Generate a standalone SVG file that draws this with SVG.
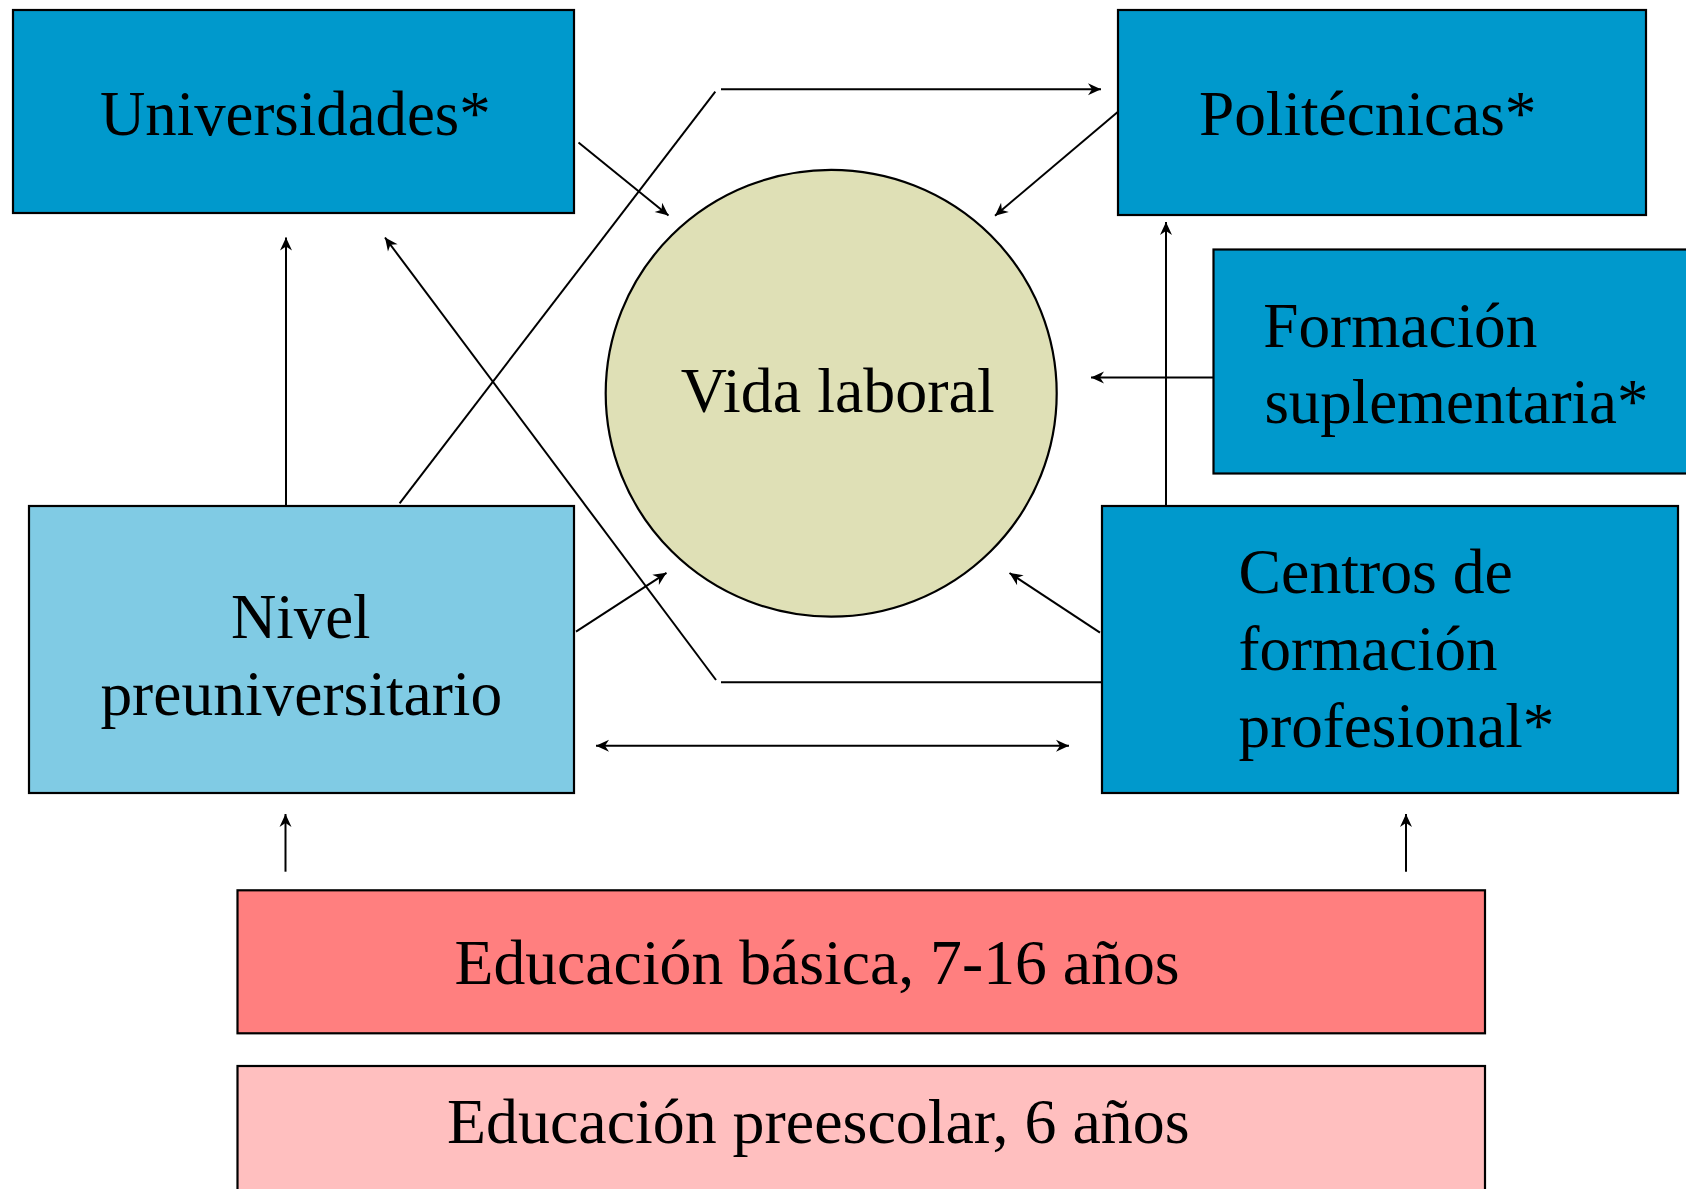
<svg xmlns="http://www.w3.org/2000/svg" width="1686" height="1189" viewBox="0 0 1686 1189">
<style>
  .box { stroke: #000; stroke-width: 2.2; }
  .blue { fill: #0099CC; }
  .light { fill: #80CBE4; }
  .basic { fill: #FF7F7F; }
  .pre { fill: #FFBFBF; }
  .circle { fill: #DFE0B6; stroke: #000; stroke-width: 2.2; }
  .lbl { font-family: "Liberation Serif", "Times New Roman", serif; font-size: 64px; fill: #000; }
  .c { stroke: #000; stroke-width: 2; fill: none; }
  .a { marker-end: url(#ah); }
  .aa { marker-start: url(#ah); marker-end: url(#ah); }
</style>
<defs>
  <marker id="ah" viewBox="-14 -7 15 14" refX="0" refY="0" markerWidth="15" markerHeight="14" markerUnits="userSpaceOnUse" orient="auto-start-reverse">
    <path d="M0,0 L-13,-6 L-9,0 L-13,6 Z" fill="#000"/>
  </marker>
</defs>
<rect width="1686" height="1189" fill="#fff"/>

<g id="connectors">
  <line class="c a" x1="578.5" y1="142.5" x2="668.5" y2="215.5"/>
  <line class="c a" x1="721" y1="89.3" x2="1101" y2="89.3"/>
  <line class="c a" x1="1118" y1="111.7" x2="995" y2="215.7"/>
  <line class="c a" x1="1213" y1="377.5" x2="1091" y2="377.5"/>
  <line class="c a" x1="1166" y1="506" x2="1166" y2="222"/>
  <line class="c a" x1="286" y1="506" x2="286" y2="237.5"/>
  <line class="c" x1="399.6" y1="503.3" x2="715.3" y2="91.7"/>
  <line class="c a" x1="576" y1="631.7" x2="666.5" y2="572.8"/>
  <line class="c a" x1="716" y1="680" x2="385" y2="237.5"/>
  <line class="c" x1="1102" y1="682.3" x2="721" y2="682.3"/>
  <line class="c aa" x1="596" y1="745.7" x2="1069" y2="745.7"/>
  <line class="c a" x1="1100" y1="632.7" x2="1009.5" y2="573"/>
  <line class="c a" x1="285.5" y1="871.7" x2="285.5" y2="814"/>
  <line class="c a" x1="1406" y1="871.7" x2="1406" y2="814"/>
</g>

<g id="universidades">
  <rect class="box blue" x="13" y="10" width="561" height="203"/>
  <text class="lbl" x="100" y="135" textLength="390.6" lengthAdjust="spacingAndGlyphs">Universidades*</text>
</g>

<g id="politecnicas">
  <rect class="box blue" x="1118" y="10" width="528" height="205"/>
  <text class="lbl" x="1199" y="135" textLength="337.5" lengthAdjust="spacingAndGlyphs">Politécnicas*</text>
</g>

<g id="formacion-suplementaria">
  <rect class="box blue" x="1213.5" y="249.5" width="480" height="224"/>
  <text class="lbl" x="1263.3" y="346.7" textLength="274" lengthAdjust="spacingAndGlyphs">Formación</text>
  <text class="lbl" x="1264.4" y="423.3" textLength="384" lengthAdjust="spacingAndGlyphs">suplementaria*</text>
</g>

<g id="vida-laboral">
  <ellipse class="circle" cx="831.2" cy="393.3" rx="225.5" ry="223.4"/>
  <text class="lbl" x="680.7" y="412" textLength="314" lengthAdjust="spacingAndGlyphs">Vida laboral</text>
</g>

<g id="nivel-preuniversitario">
  <rect class="box light" x="29" y="506" width="545" height="287"/>
  <text class="lbl" x="231" y="638.3" textLength="139.5" lengthAdjust="spacingAndGlyphs">Nivel</text>
  <text class="lbl" x="100.4" y="715" textLength="401.8" lengthAdjust="spacingAndGlyphs">preuniversitario</text>
</g>

<g id="centros-formacion-profesional">
  <rect class="box blue" x="1102" y="506" width="576" height="287"/>
  <text class="lbl" x="1238.6" y="593.3" textLength="274.3" lengthAdjust="spacingAndGlyphs">Centros de</text>
  <text class="lbl" x="1238.6" y="670" textLength="259" lengthAdjust="spacingAndGlyphs">formación</text>
  <text class="lbl" x="1238.6" y="746.7" textLength="315.7" lengthAdjust="spacingAndGlyphs">profesional*</text>
</g>

<g id="educacion-basica">
  <rect class="box basic" x="237.5" y="890.3" width="1247.5" height="143"/>
  <text class="lbl" x="454.5" y="984" textLength="725" lengthAdjust="spacingAndGlyphs">Educación básica, 7-16 años</text>
</g>

<g id="educacion-preescolar">
  <rect class="box pre" x="237.5" y="1066" width="1247.5" height="140"/>
  <text class="lbl" x="447" y="1143.3" textLength="742.5" lengthAdjust="spacingAndGlyphs">Educación preescolar, 6 años</text>
</g>
</svg>
